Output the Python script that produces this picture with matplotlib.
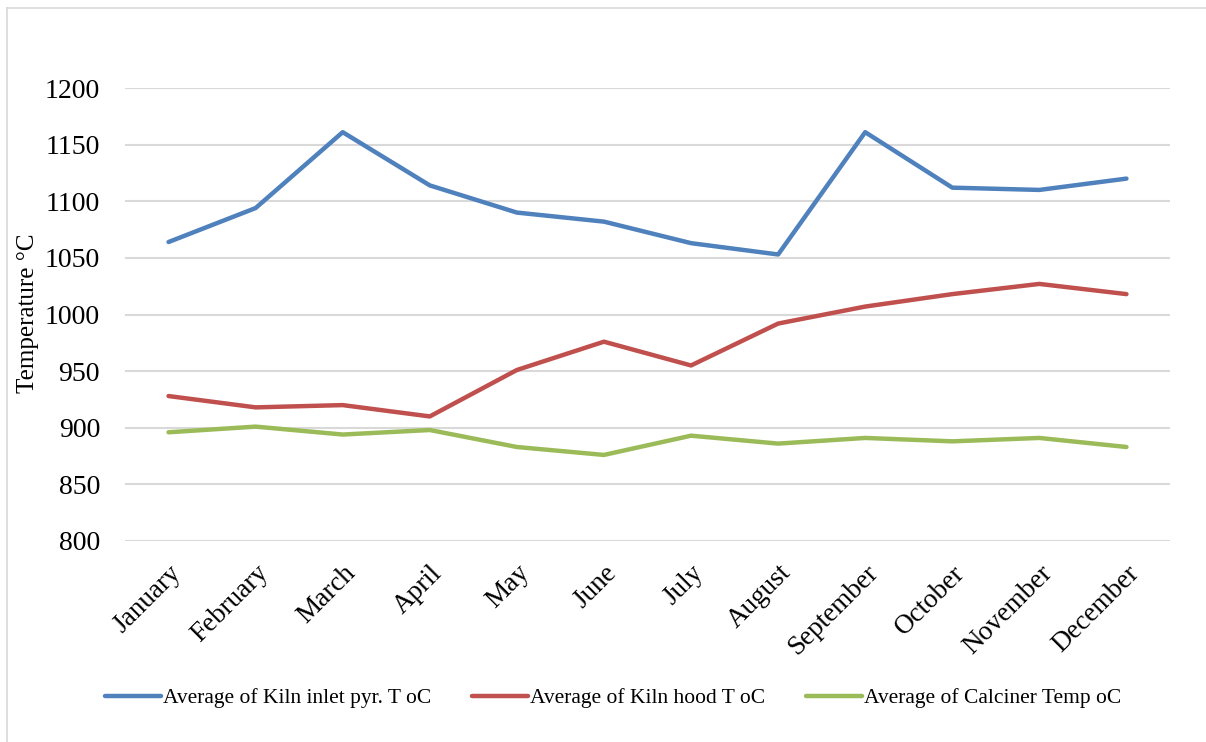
import matplotlib
matplotlib.use("Agg")
import matplotlib.pyplot as plt
from matplotlib.lines import Line2D

months = ["January", "February", "March", "April", "May", "June",
          "July", "August", "September", "October", "November", "December"]
kiln_inlet = [1064, 1094, 1161, 1114, 1090, 1082, 1063, 1053, 1161, 1112, 1110, 1120]
kiln_hood = [928, 918, 920, 910, 951, 976, 955, 992, 1007, 1018, 1027, 1018]
calciner = [896, 901, 894, 898, 883, 876, 893, 886, 891, 888, 891, 883]
y_ticks = [800, 850, 900, 950, 1000, 1050, 1100, 1150, 1200]

plt.rcParams["font.family"] = ["Liberation Serif", "DejaVu Serif"]

W, H = 1206, 742
fig = plt.figure(figsize=(W / 100, H / 100), dpi=100)
ax = fig.add_axes([125 / W, 1 - 541 / H, (1170 - 125) / W, (541 - 88) / H])

# chart border, only top and left edges show
top = 1 - 8 / H
left = 7 / W
fig.lines.append(Line2D([left, 1.0], [top, top], transform=fig.transFigure,
                        color="#D9D9D9", linewidth=1.2))
fig.lines.append(Line2D([left, left], [0.0, top], transform=fig.transFigure,
                        color="#D9D9D9", linewidth=1.2))

x = range(len(months))
ax.plot(x, kiln_inlet, color="#4F81BD", lw=3.2, solid_capstyle="round",
        label="Average of Kiln inlet pyr. T oC")
ax.plot(x, kiln_hood, color="#C0504D", lw=3.2, solid_capstyle="round",
        label="Average of Kiln hood T oC")
ax.plot(x, calciner, color="#9BBB59", lw=3.2, solid_capstyle="round",
        label="Average of Calciner Temp oC")

ax.set_xlim(-0.5, len(months) - 0.5)
ax.set_ylim(800, 1200)
ax.set_yticks(y_ticks)
ax.tick_params(axis="y", labelsize=20, length=0, pad=18)
ax.set_xticks(list(x))
ax.set_xticklabels(months, rotation=45, ha="right", rotation_mode="anchor")
ax.tick_params(axis="x", labelsize=19.5, length=0, pad=14)
ax.grid(axis="y", color="#D9D9D9", linewidth=1.5)
ax.set_axisbelow(True)
for s in ax.spines.values():
    s.set_visible(False)

fig.text(28 / W, 1 - 313 / H, "Temperature °C", rotation=90, fontsize=18,
         ha="center", va="center")

fig.legend(loc="center", bbox_to_anchor=(613 / W, 1 - 698 / H), ncol=3,
           frameon=False, fontsize=15.5, handlelength=2.6, handletextpad=0.1,
           columnspacing=1.9)

fig.savefig("out.png", dpi=100)
